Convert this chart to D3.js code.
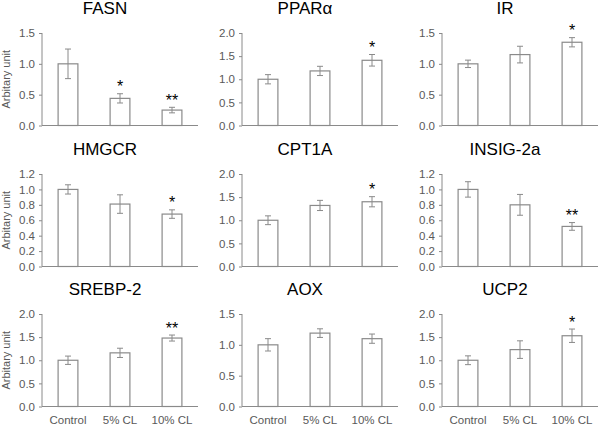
<!DOCTYPE html>
<html><head><meta charset="utf-8">
<script src="https://cdn.jsdelivr.net/npm/d3@7"></script>
<style>body{margin:0;background:#fff}svg{display:block}</style>
</head><body>
<svg id="c" width="600" height="425"></svg>
<script>
const groups = ["Control", "5% CL", "10% CL"];
const titles = ["FASN", "PPAR\u03B1", "IR", "HMGCR", "CPT1A", "INSIG-2a", "SREBP-2", "AOX", "UCP2"];
const means = [
  [1.0, 0.44, 0.25],
  [1.0, 1.18, 1.41],
  [1.0, 1.15, 1.35],
  [1.0, 0.81, 0.68],
  [1.0, 1.32, 1.40],
  [1.0, 0.80, 0.52],
  [1.0, 1.16, 1.48],
  [1.0, 1.19, 1.10],
  [1.0, 1.23, 1.53]
];
const errors = [
  [0.24, 0.075, 0.045],
  [0.10, 0.10, 0.125],
  [0.06, 0.135, 0.075],
  [0.06, 0.12, 0.055],
  [0.095, 0.11, 0.11],
  [0.10, 0.135, 0.05],
  [0.09, 0.10, 0.065],
  [0.10, 0.07, 0.075],
  [0.095, 0.19, 0.145]
];
const stars = [
  ["", "*", "**"],
  ["", "", "*"],
  ["", "", "*"],
  ["", "", "*"],
  ["", "", "*"],
  ["", "", "**"],
  ["", "", "**"],
  ["", "", ""],
  ["", "", "*"]
];
const yMax = [1.5, 2.0, 1.5, 1.2, 2.0, 1.2, 2.0, 1.5, 2.0];
const yStep = [0.5, 0.5, 0.5, 0.2, 0.5, 0.2, 0.5, 0.5, 0.5];
const yLabel = "Arbitary unit";

const svg = d3.select("#c");
const gray = "#8a8a8a";
const font = "Arial, 'Liberation Sans', sans-serif";
const rowTop = [33, 174, 314];
const plotH = 92.5;

titles.forEach((t, i) => {
  const col = i % 3, row = Math.floor(i / 3);
  const g = svg.append("g").attr("transform", `translate(${col * 200},${rowTop[row]})`);
  const x = d3.scaleBand().domain(groups).range([42, 198]).paddingInner(0.6).paddingOuter(0.3);
  const y = d3.scaleLinear().domain([0, yMax[i]]).range([plotH, 0]);
  const ticks = d3.range(0, yMax[i] + yStep[i] / 2, yStep[i]);

  g.append("text").attr("x", 105).attr("y", -19.5).attr("text-anchor", "middle")
    .attr("font-family", font).attr("font-size", 17).attr("fill", "#000").text(t);

  const ya = g.append("g").attr("transform", "translate(42,0)")
    .call(d3.axisLeft(y).tickValues(ticks).tickFormat(d3.format(".1f")).tickSize(3).tickPadding(4));
  ya.select(".domain").attr("stroke", gray).attr("d", `M0,${y(yMax[i])}V${plotH}`);
  ya.selectAll(".tick line").attr("stroke", gray);
  ya.selectAll(".tick text").attr("fill", "#595959").attr("font-family", font).attr("font-size", 11.5);

  const xa = g.append("g").attr("transform", `translate(0,${plotH})`)
    .call(d3.axisBottom(x).tickSize(0).tickPadding(9));
  xa.select(".domain").attr("stroke", gray).attr("d", "M42,0H198");
  xa.selectAll(".tick text").attr("fill", "#595959").attr("font-family", font).attr("font-size", 11.5);
  if (row < 2) xa.selectAll(".tick text").remove();

  if (col === 0) {
    g.append("text").attr("transform", `translate(10,${plotH / 2}) rotate(-90)`)
      .attr("text-anchor", "middle").attr("font-family", font).attr("font-size", 11)
      .attr("fill", "#595959").text(yLabel);
  }

  const data = groups.map((k, j) => ({ k, m: means[i][j], e: errors[i][j], s: stars[i][j] }));

  g.selectAll("rect.bar").data(data).enter().append("rect")
    .attr("x", d => x(d.k) + 0.5).attr("width", x.bandwidth() - 1)
    .attr("y", d => y(d.m)).attr("height", d => plotH - y(d.m))
    .attr("fill", "#fff").attr("stroke", gray).attr("stroke-width", 1.2);

  const eb = g.selectAll("g.err").data(data).enter().append("g")
    .attr("stroke", gray).attr("stroke-width", 1);
  const cx = d => x(d.k) + x.bandwidth() / 2;
  eb.append("line").attr("x1", cx).attr("x2", cx)
    .attr("y1", d => y(d.m + d.e)).attr("y2", d => y(d.m - d.e));
  eb.append("line").attr("x1", d => cx(d) - 3).attr("x2", d => cx(d) + 3)
    .attr("y1", d => y(d.m + d.e)).attr("y2", d => y(d.m + d.e));
  eb.append("line").attr("x1", d => cx(d) - 3).attr("x2", d => cx(d) + 3)
    .attr("y1", d => y(d.m - d.e)).attr("y2", d => y(d.m - d.e));

  g.selectAll("text.star").data(data.filter(d => d.s)).enter().append("text")
    .attr("x", cx).attr("y", d => y(d.m + d.e) - 1.5)
    .attr("text-anchor", "middle").attr("font-family", font).attr("font-size", 16)
    .attr("fill", "#000").text(d => d.s);
});
</script>
</body></html>
